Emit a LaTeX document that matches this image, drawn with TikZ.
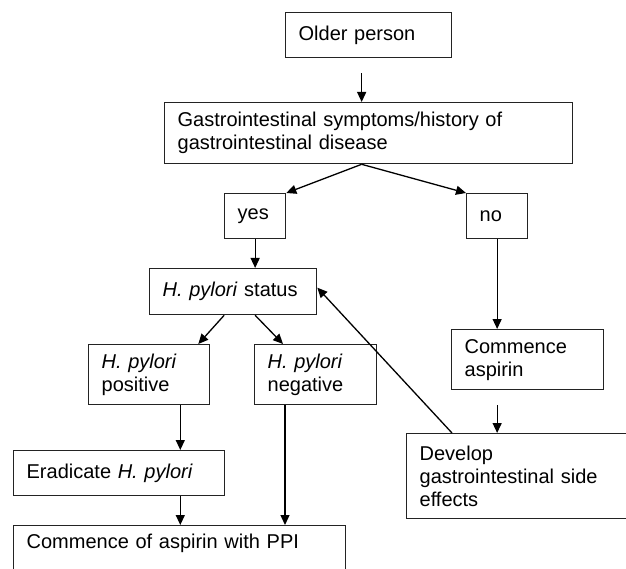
\documentclass[tikz,border=0pt]{standalone}
\usepackage{fontspec}
\setmainfont{Liberation Sans}
\usepackage{tikz}
\usetikzlibrary{positioning}
\usetikzlibrary{arrows.meta}
\definecolor{linegray}{RGB}{35,35,35}
\tikzset{
	box/.style={draw=linegray, line width=1.3pt, anchor=north west, align=left,
		inner xsep=13pt, inner ysep=0pt, font=\fontsize{20}{23}\selectfont},
	arr/.style={draw=black, line width=1.3pt, -{Triangle[length=10pt,width=9pt]}},
}

\begin{document}
\begin{tikzpicture}[x=1pt,y=-1pt]
	\useasboundingbox (0,0) rectangle (626,569);

	% boxes.....................
	\node [box, text width=140, minimum height=45] (older) at (285,12) {Older person};
	\node [box, text width=382, minimum height=61] (gastro) at (164,102) {Gastrointestinal symptoms/history of\\gastrointestinal disease};
	\node [box, text width=35, minimum height=45] (yes) at (224,193) {yes};
	\node [box, text width=35, minimum height=45] (no) at (466,193) {no};
	\node [box, text width=141, minimum height=46] (status) at (149,268) {\textit{H. pylori} status};
	\node [box, text width=95, minimum height=60] (positive) at (88,344) {\textit{H. pylori}\\positive};
	\node [box, text width=96, minimum height=60] (negative) at (254,344) {\textit{H. pylori}\\negative};
	\node [box, text width=126, minimum height=60] (aspirin) at (451,329) {Commence\\aspirin};
	\node [box, text width=185, minimum height=45] (eradicate) at (13,450) {Eradicate \textit{H. pylori}};
	\node [box, text width=274, minimum height=85] (develop) at (406,433) {Develop\\gastrointestinal side\\effects};
	\node [box, text width=306, text height=23pt, text depth=50pt] (ppi) at (13,525) {Commence of aspirin with PPI};

	% top of the chart..........
	\draw [arr] ([xshift=-7pt,yshift=-15pt]older.south) -- ([xshift=-7pt]gastro.north);
	\draw [arr] ([xshift=-7pt]gastro.south) -- (yes.north east);
	\draw [arr] ([xshift=-7pt]gastro.south) -- (no.north west);

	% yes branch................
	\draw [arr] (yes.south) -- (yes.south |- status.north);
	\draw [arr] ([xshift=-9pt]status.south) -- ([xshift=-12pt]positive.north east);
	\draw [arr] ([xshift=22pt]status.south) -- ([xshift=29pt]negative.north west);
	\draw [arr] ([xshift=-30pt]positive.south east) -- ([xshift=-30pt]positive.south east |- eradicate.north);
	\draw [arr] ([xshift=-45pt]eradicate.south east) -- ([xshift=-45pt]eradicate.south east |- ppi.north);
	\draw [arr] ([xshift=31pt]negative.south west) -- ([xshift=31pt]negative.south west |- ppi.north);

	% no branch.................
	\draw [arr] (no.south) -- (no.south |- aspirin.north);
	\draw [arr] ([yshift=-15pt]no.south |- aspirin.south) -- (no.south |- develop.north);
	\draw [arr] ([xshift=46pt]develop.north west) -- ([yshift=4pt]status.east);
\end{tikzpicture}
\end{document}
